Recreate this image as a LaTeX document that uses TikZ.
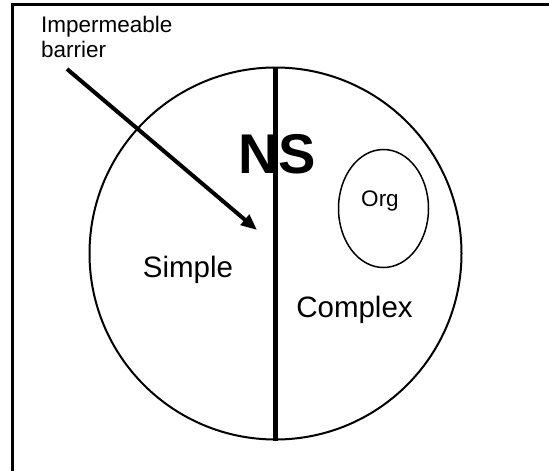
\documentclass[tikz,border=0pt]{standalone}
\usepackage{fontspec}
\setmainfont{Liberation Sans}
\usetikzlibrary{shapes,arrows.meta}

\begin{document}
\begin{tikzpicture}[x=1pt, y=-1pt,
    txt/.style={inner sep=0pt, anchor=base, font=\fontsize{29.5}{34}\selectfont},
    smalltxt/.style={inner sep=0pt, font=\fontsize{22.5}{25}\selectfont}]

    % Page area and frame
    \useasboundingbox (0,0) rectangle (549,471);
    \draw[line width=3pt] (12,471) -- (12,4) -- (549,4);

    % Natural system circle
    \node[circle, draw, line width=2pt, minimum size=372pt, inner sep=0pt] (ns) at (275.5,253.5) {};

    % Organism
    \node[ellipse, draw, line width=1.5pt, minimum width=90pt, minimum height=118pt, inner sep=0pt] (org) at (383.5,208.5) {};
    \node[smalltxt, anchor=base] (orglbl) at (380,206.5) {Org};

    % Labels
    \node[inner sep=0pt, anchor=base, font=\fontsize{56}{60}\selectfont\bfseries] (nslbl) at (277,173) {NS};
    \node[txt] (simple) at (188,277.5) {Simple};
    \node[txt] (complex) at (354.5,317) {Complex};

    % Dividing barrier
    \draw[line width=5pt] (ns.north) -- (ns.south);

    % Pointer to the barrier
    \node[smalltxt, anchor=base west, align=left] (barrierlbl) at (41,57) {Impermeable\\barrier};
    \coordinate (tail) at (67,69);
    \coordinate (tip) at (257,230);
    \draw[line width=4pt, -{Triangle[length=16pt, width=13pt]}] (tail) -- (tip);

\end{tikzpicture}
\end{document}
